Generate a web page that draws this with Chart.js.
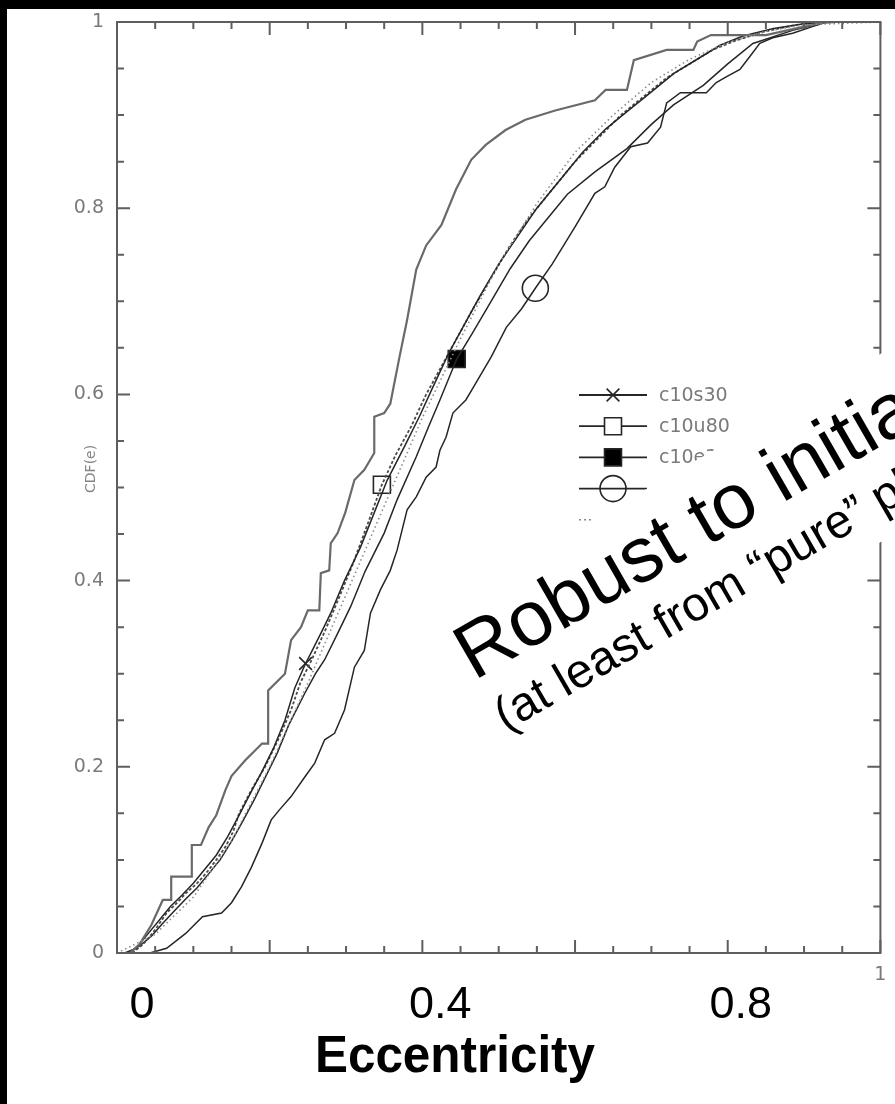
<!DOCTYPE html>
<html>
<head>
<meta charset="utf-8">
<script src="https://cdn.jsdelivr.net/npm/chart.js@4.4.1/dist/chart.umd.min.js"></script>
<style>
  html, body { margin: 0; padding: 0; background: #000; }
  canvas { display: block; }
</style>
</head>
<body>
<canvas id="cdf" width="895" height="1104"></canvas>
<script>
// ---- axis ticks and labels ----
const xMajorTicks = [0, 0.2, 0.4, 0.6, 0.8, 1];
const xMinorTicks = [0.05, 0.1, 0.15, 0.25, 0.3, 0.35, 0.45, 0.5, 0.55, 0.65, 0.7, 0.75, 0.85, 0.9, 0.95];
const yMajorTicks = [0, 0.2, 0.4, 0.6, 0.8, 1];
const yMinorTicks = [0.05, 0.1, 0.15, 0.25, 0.3, 0.35, 0.45, 0.5, 0.55, 0.65, 0.7, 0.75, 0.85, 0.9, 0.95];
const yTickLabels = ['0', '0.2', '0.4', '0.6', '0.8', '1'];
const xEndValue = 1;
const xEndLabel = '1';
const bigXValues = [0, 0.4, 0.8];
const bigXLabels = ['0', '0.4', '0.8'];
const xTitle = 'Eccentricity';
const yTitle = 'CDF(e)';
const headline = 'Robust to initial conditions';
const subline = '(at least from \u201Cpure\u201D planetesimal disks)';

// ---- legend ----
const legendNames = ['c10s30', 'c10u80', 'c10e30', 'c10e80', 'smooth'];

// ---- cumulative distributions: [eccentricity, CDF] ----
const observed = [[0,0],[0.017,0],[0.03,0.01],[0.045,0.03],[0.06,0.057],[0.071,0.057],[0.071,0.082],[0.098,0.082],
  [0.098,0.116],[0.11,0.116],[0.12,0.135],[0.13,0.148],[0.142,0.175],[0.15,0.19],[0.168,0.207],[0.19,0.225],
  [0.198,0.225],[0.198,0.282],[0.22,0.3],[0.228,0.336],[0.241,0.35],[0.25,0.368],[0.265,0.368],[0.267,0.408],
  [0.278,0.411],[0.28,0.44],[0.289,0.451],[0.299,0.473],[0.311,0.508],[0.324,0.519],[0.337,0.537],[0.337,0.576],
  [0.35,0.58],[0.358,0.59],[0.37,0.64],[0.38,0.68],[0.392,0.734],[0.405,0.76],[0.425,0.782],[0.444,0.82],
  [0.464,0.852],[0.483,0.868],[0.509,0.884],[0.535,0.895],[0.574,0.905],[0.626,0.916],[0.64,0.927],[0.668,0.927],
  [0.677,0.959],[0.72,0.97],[0.755,0.97],[0.76,0.979],[0.778,0.986],[0.85,0.986],[0.9,0.995],[0.93,1],[1,1]];

const c10s30 = [[0.01,0],[0.025,0.005],[0.04,0.02],[0.055,0.035],[0.07,0.05],[0.085,0.062],[0.1,0.075],[0.115,0.09],
  [0.13,0.105],[0.145,0.125],[0.16,0.148],[0.175,0.172],[0.19,0.195],[0.205,0.22],[0.22,0.25],[0.233,0.285],
  [0.247,0.311],[0.254,0.322],[0.268,0.345],[0.28,0.365],[0.298,0.4],[0.319,0.436],[0.337,0.473],[0.354,0.508],
  [0.376,0.543],[0.396,0.576],[0.415,0.61],[0.435,0.645],[0.455,0.675],[0.475,0.705],[0.5,0.74],[0.525,0.77],
  [0.55,0.8],[0.58,0.83],[0.61,0.86],[0.64,0.885],[0.67,0.905],[0.7,0.925],[0.73,0.945],[0.76,0.96],[0.79,0.975],
  [0.82,0.985],[0.86,0.993],[0.9,0.998],[0.95,1],[1,1]];

const c10u80 = [[0.02,0],[0.035,0.01],[0.05,0.025],[0.065,0.043],[0.08,0.055],[0.09,0.064],[0.105,0.075],[0.117,0.086],
  [0.13,0.1],[0.142,0.114],[0.152,0.13],[0.16,0.15],[0.176,0.175],[0.194,0.2],[0.211,0.229],[0.228,0.261],
  [0.24,0.29],[0.255,0.315],[0.272,0.345],[0.29,0.38],[0.31,0.42],[0.328,0.46],[0.347,0.503],[0.365,0.535],
  [0.385,0.565],[0.405,0.6],[0.425,0.63],[0.445,0.66],[0.465,0.69],[0.49,0.725],[0.515,0.76],[0.54,0.79],
  [0.57,0.82],[0.6,0.85],[0.63,0.875],[0.66,0.9],[0.69,0.92],[0.72,0.94],[0.75,0.955],[0.78,0.97],[0.81,0.98],
  [0.85,0.99],[0.89,0.997],[0.93,1],[1,1]];

const c10e30 = [[0.015,0],[0.03,0.008],[0.045,0.018],[0.06,0.032],[0.075,0.045],[0.09,0.058],[0.105,0.07],[0.12,0.085],
  [0.135,0.1],[0.15,0.12],[0.165,0.142],[0.18,0.165],[0.195,0.19],[0.21,0.215],[0.225,0.245],[0.246,0.279],
  [0.26,0.3],[0.272,0.315],[0.29,0.345],[0.306,0.372],[0.325,0.41],[0.35,0.451],[0.367,0.487],[0.392,0.533],
  [0.408,0.565],[0.423,0.594],[0.445,0.638],[0.465,0.665],[0.49,0.7],[0.515,0.735],[0.54,0.765],[0.565,0.79],
  [0.59,0.815],[0.626,0.839],[0.668,0.864],[0.7,0.89],[0.729,0.911],[0.768,0.932],[0.8,0.955],[0.833,0.977],
  [0.885,0.991],[0.93,1],[1,1]];

const c10e80 = [[0.043,0],[0.065,0.005],[0.09,0.021],[0.112,0.039],[0.137,0.043],[0.15,0.054],[0.163,0.071],[0.176,0.092],
  [0.19,0.118],[0.202,0.143],[0.213,0.154],[0.228,0.168],[0.246,0.189],[0.259,0.204],[0.272,0.229],[0.285,0.236],
  [0.298,0.261],[0.311,0.307],[0.324,0.325],[0.332,0.365],[0.345,0.39],[0.358,0.411],[0.367,0.433],[0.38,0.476],
  [0.392,0.49],[0.405,0.511],[0.418,0.522],[0.423,0.54],[0.431,0.554],[0.44,0.58],[0.457,0.594],[0.47,0.612],
  [0.49,0.64],[0.51,0.672],[0.53,0.692],[0.548,0.714],[0.57,0.74],[0.6,0.78],[0.626,0.816],[0.639,0.823],
  [0.652,0.844],[0.673,0.866],[0.695,0.87],[0.712,0.887],[0.72,0.913],[0.738,0.924],[0.772,0.924],[0.785,0.935],
  [0.798,0.941],[0.816,0.949],[0.829,0.963],[0.842,0.977],[0.859,0.983],[0.885,0.988],[0.911,0.995],[0.93,1],[1,1]];

const smooth = [[0,0],[0.05,0.02],[0.1,0.06],[0.15,0.12],[0.2,0.2],[0.25,0.29],[0.3,0.385],[0.35,0.48],[0.4,0.575],
  [0.45,0.66],[0.5,0.74],[0.55,0.805],[0.6,0.86],[0.65,0.9],[0.7,0.935],[0.75,0.96],[0.8,0.978],[0.85,0.99],
  [0.9,0.997],[1,1]];

// one symbol per model curve
const markS30 = [[0.247, 0.311]];
const markU80 = [[0.347, 0.503]];
const markE30 = [[0.445, 0.638]];
const markE80 = [[0.548, 0.714]];

const pts = arr => arr.map(p => ({ x: p[0], y: p[1] }));

const INK = '#262626';
const GREY = '#7a7a7a';
const TICKFONT = '19px "DejaVu Sans"';

function curve(data, color, width, dash) {
  return { type: 'line', data: pts(data), borderColor: color, borderWidth: width, borderDash: dash || [],
           pointRadius: 0, tension: 0, fill: false };
}
function mark(data, style, radius, fillColor) {
  return { type: 'line', data: pts(data), showLine: false, pointStyle: style, pointRadius: radius,
           pointBorderColor: INK, pointBackgroundColor: fillColor, pointBorderWidth: 1.6 };
}

// symbols as they appear in the legend rows
const legendStyles = [
  { style: 'crossRot', radius: 9, fill: 'rgba(0,0,0,0)', dash: [] },
  { style: 'rect', radius: 12, fill: '#ffffff', dash: [] },
  { style: 'rect', radius: 12, fill: '#000000', dash: [] },
  { style: 'circle', radius: 13, fill: 'rgba(0,0,0,0)', dash: [] },
  { style: null, radius: 0, fill: null, dash: [2, 3] }
];

const framePlugin = {
  id: 'frame',
  beforeDraw(chart) {
    const ctx = chart.ctx;
    ctx.save();
    ctx.fillStyle = '#000';
    ctx.fillRect(0, 0, chart.width, chart.height);
    ctx.fillStyle = '#fff';
    ctx.fillRect(7, 9, chart.width - 7, chart.height - 9);
    ctx.restore();
  },
  afterDatasetsDraw(chart) {
    const ctx = chart.ctx;
    const a = chart.chartArea;
    const xs = chart.scales.x, ys = chart.scales.y;
    ctx.save();
    // box
    ctx.strokeStyle = '#5e5e5e';
    ctx.lineWidth = 2;
    ctx.strokeRect(a.left, a.top, a.right - a.left, a.bottom - a.top);
    // inward ticks on all four sides
    const tick = (vals, len) => {
      vals.forEach(v => {
        const px = xs.getPixelForValue(v);
        ctx.beginPath();
        ctx.moveTo(px, a.bottom); ctx.lineTo(px, a.bottom - len);
        ctx.moveTo(px, a.top); ctx.lineTo(px, a.top + len);
        ctx.stroke();
      });
    };
    const ytick = (vals, len) => {
      vals.forEach(v => {
        const py = ys.getPixelForValue(v);
        ctx.beginPath();
        ctx.moveTo(a.left, py); ctx.lineTo(a.left + len, py);
        ctx.moveTo(a.right, py); ctx.lineTo(a.right - len, py);
        ctx.stroke();
      });
    };
    tick(xMajorTicks, 13); tick(xMinorTicks, 7);
    ytick(yMajorTicks, 13); ytick(yMinorTicks, 7);

    // y tick labels
    ctx.fillStyle = GREY;
    ctx.font = TICKFONT;
    ctx.textAlign = 'right';
    ctx.textBaseline = 'middle';
    yMajorTicks.forEach((v, i) => ctx.fillText(yTickLabels[i], a.left - 13, ys.getPixelForValue(v)));
    // right-hand x label
    ctx.textAlign = 'center';
    ctx.textBaseline = 'top';
    ctx.fillText(xEndLabel, xs.getPixelForValue(xEndValue), a.bottom + 13);

    // y title
    ctx.save();
    ctx.translate(a.left - 26, ys.getPixelForValue(0.52));
    ctx.rotate(-Math.PI / 2);
    ctx.font = '14px "DejaVu Sans"';
    ctx.fillStyle = '#858585';
    ctx.textAlign = 'center';
    ctx.textBaseline = 'middle';
    ctx.fillText(yTitle, 0, 0);
    ctx.restore();

    // legend
    const lx0 = 579, lx1 = 647, lmx = 613, ltx = 659, ly0 = 395, lstep = 31.2;
    legendNames.forEach((name, i) => {
      const y = ly0 + i * lstep;
      const st = legendStyles[i];
      ctx.strokeStyle = st.style ? INK : '#8a8a8a';
      ctx.lineWidth = st.style ? 1.8 : 1.6;
      ctx.setLineDash(st.dash);
      ctx.beginPath(); ctx.moveTo(lx0, y); ctx.lineTo(lx1, y); ctx.stroke();
      ctx.setLineDash([]);
      if (st.style) {
        ctx.strokeStyle = INK;
        ctx.fillStyle = st.fill;
        ctx.lineWidth = 1.6;
        Chart.helpers.drawPoint(ctx, { pointStyle: st.style, radius: st.radius, borderWidth: 1.6 }, lmx, y);
      }
      ctx.fillStyle = GREY;
      ctx.font = TICKFONT;
      ctx.textAlign = 'left';
      ctx.textBaseline = 'middle';
      ctx.fillText(name, ltx, y + 1);
    });
    ctx.restore();
  },
  afterDraw(chart) {
    const ctx = chart.ctx;
    const a = chart.chartArea;
    const xs = chart.scales.x;
    ctx.save();
    // large axis numbers and title under the frame
    ctx.fillStyle = '#000';
    ctx.font = '45px "Liberation Sans", Arial, sans-serif';
    ctx.textAlign = 'center';
    ctx.textBaseline = 'alphabetic';
    const nudge = [25, 18, 13];
    bigXValues.forEach((v, i) => ctx.fillText(bigXLabels[i], xs.getPixelForValue(v) + nudge[i], a.bottom + 65));
    ctx.save();
    ctx.translate(455, a.bottom + 119);
    ctx.scale(0.95, 1);
    ctx.font = 'bold 52px "Liberation Sans", Arial, sans-serif';
    ctx.fillText(xTitle, 0, 0);
    ctx.restore();

    // slanted caption on its white strip
    ctx.translate(474, 681);
    ctx.rotate(-Math.PI / 6);
    ctx.fillStyle = '#fff';
    ctx.fillRect(-12, -80, 900, 163);
    ctx.fillStyle = '#000';
    ctx.textAlign = 'left';
    ctx.font = '78px "Liberation Sans", Arial, sans-serif';
    ctx.fillText(headline, 0, 0);
    ctx.font = '48px "Liberation Sans", Arial, sans-serif';
    ctx.fillText(subline, 2, 60);
    ctx.restore();
  }
};

new Chart(document.getElementById('cdf'), {
  type: 'line',
  data: {
    datasets: [
      curve(smooth, '#8c8c8c', 1.6, [1.5, 3]),
      curve(observed, '#6a6a6a', 2.2),
      curve(c10s30, INK, 1.5),
      curve(c10u80, '#4a4a4a', 1.8, [3, 2]),
      curve(c10e30, INK, 1.5),
      curve(c10e80, INK, 1.5),
      mark(markS30, 'crossRot', 9, 'rgba(0,0,0,0)'),
      mark(markU80, 'rect', 12, '#ffffff'),
      mark(markE30, 'rect', 12, '#000000'),
      mark(markE80, 'circle', 13, 'rgba(0,0,0,0)')
    ]
  },
  options: {
    responsive: false,
    animation: false,
    devicePixelRatio: 1,
    layout: { padding: { left: 117, right: 7, top: 22, bottom: 151 } },
    scales: {
      x: { type: 'linear', min: 0, max: 1, display: false },
      y: { type: 'linear', min: 0, max: 1, display: false }
    },
    plugins: { legend: { display: false }, tooltip: { enabled: false } },
    elements: { line: { borderJoinStyle: 'miter' } }
  },
  plugins: [framePlugin]
});
</script>
</body>
</html>
